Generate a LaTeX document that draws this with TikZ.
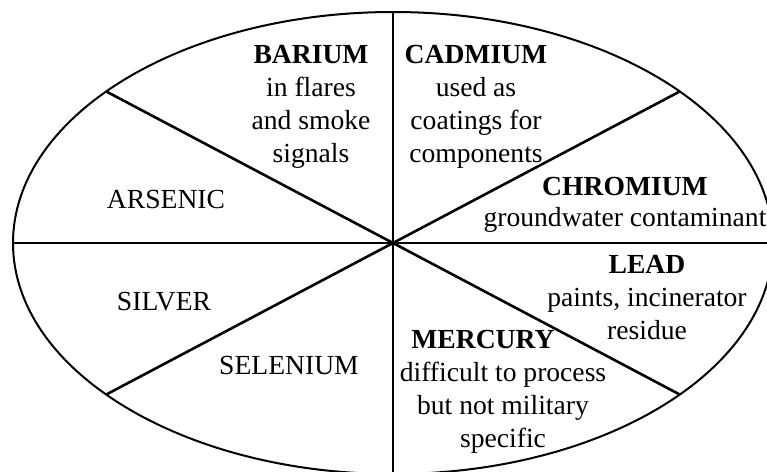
\documentclass[tikz,border=0pt]{standalone}
\usepackage{fontspec}
\setmainfont{Liberation Serif}
\usetikzlibrary{positioning,calc}

\begin{document}
\begin{tikzpicture}[
    x=0.5pt, y=-0.5pt,
    every node/.style={font=\fontsize{13.8}{16.5}\selectfont},
    label/.style={inner sep=0pt, align=center},
    block/.style={label, anchor=north},
    rim/.style={line width=1pt},
    spoke/.style={line width=1.3pt},
]
\useasboundingbox (0,0) rectangle (767,472);

% Ellipse centre and radii
\def\cx{393}
\def\cy{243}
\def\rx{380}
\def\ry{231}
\coordinate (c) at (\cx,\cy);

% Outer ellipse
\draw[rim] (c) ellipse [x radius=\rx, y radius=\ry];

% Spokes to the rim
\foreach \a/\n in {0/e,41/ne,90/n,139/nw,180/w,221/sw,270/s,319/se} {
  \coordinate (p\n) at ({\cx+\rx*cos(\a)},{\cy-\ry*sin(\a)});
  \draw[spoke] (c) -- (p\n);
}

% Upper half
\node[block] (barium) at (311,45) {\textbf{BARIUM}\\in flares\\and smoke\\signals};
\node[block] (cadmium) at (476,45) {\textbf{CADMIUM}\\used as\\coatings for\\components};
\node[block] (chromium) at (625,177) {\textbf{CHROMIUM}\\[-1pt]groundwater contaminant};
\node[label] (arsenic) at (166,199) {ARSENIC};

% Lower half
\node[label] (silver) at (164,302) {SILVER};
\node[label] (selenium) at (289,365) {SELENIUM};
\node[block] (lead) at (647,255) {\textbf{LEAD}\\paints, incinerator\\residue};
\node[block] (mercury) at (503,330) {\mbox{\textbf{MERCURY}\hspace{20pt}}\\difficult to process\\but not military\\specific};

\end{tikzpicture}
\end{document}
